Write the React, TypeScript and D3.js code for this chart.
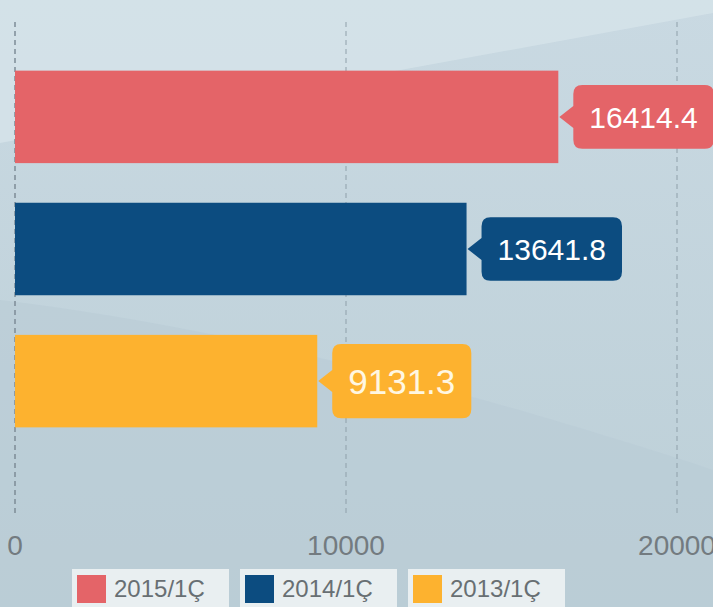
import { useEffect, useRef } from 'react';
import * as d3 from 'd3';

const seriesNames = ['2015/1Ç', '2014/1Ç', '2013/1Ç'];
const seriesValues = [16414.4, 13641.8, 9131.3];
const seriesColors = ['#e46468', '#0c4c80', '#fdb22f'];
const labelTextColors = ['#ffffff', '#ffffff', '#fff7e2'];
const labelFontSizes = [30, 30, 35];
const xTicks = [0, 10000, 20000];

const WIDTH = 713;
const HEIGHT = 607;

function App() {
  const svgRef = useRef<SVGSVGElement>(null);

  useEffect(() => {
    document.body.style.margin = '0';
    const svg = d3.select(svgRef.current);
    svg.selectAll('*').remove();
    svg.attr('width', WIDTH).attr('height', HEIGHT);

    const font = '"Liberation Sans", Arial, sans-serif';

    // background
    const defs = svg.append('defs');
    const grad = defs
      .append('linearGradient')
      .attr('id', 'bg')
      .attr('x1', 0)
      .attr('y1', 0)
      .attr('x2', 0)
      .attr('y2', 1);
    grad.append('stop').attr('offset', '0%').attr('stop-color', '#c9d9e2');
    grad.append('stop').attr('offset', '100%').attr('stop-color', '#bccfd7');

    svg.append('rect').attr('width', WIDTH).attr('height', HEIGHT).attr('fill', 'url(#bg)');
    svg
      .append('path')
      .attr('d', 'M0,0 L713,0 L713,13 L0,143 Z')
      .attr('fill', '#d6e3ea')
      .attr('opacity', 0.8);
    svg
      .append('path')
      .attr('d', 'M0,300 C250,330 500,400 713,470 L713,607 L0,607 Z')
      .attr('fill', '#b9ccd5')
      .attr('opacity', 0.6);

    const x = d3.scaleLinear().domain([0, 20000]).range([15, 677]);
    const y = d3.scaleBand<string>().domain(seriesNames).range([31, 467]).padding(0.3);

    // grid
    svg
      .append('g')
      .selectAll('line')
      .data(xTicks)
      .enter()
      .append('line')
      .attr('x1', (d) => x(d))
      .attr('x2', (d) => x(d))
      .attr('y1', 22)
      .attr('y2', 515)
      .attr('stroke', (d) => (d === 0 ? '#7d8c96' : '#8fa0aa'))
      .attr('stroke-width', (d) => (d === 0 ? 1.5 : 1))
      .attr('stroke-dasharray', '5,4');

    // tick labels
    svg
      .append('g')
      .selectAll('text')
      .data(xTicks)
      .enter()
      .append('text')
      .attr('x', (d) => x(d))
      .attr('y', 555)
      .attr('text-anchor', 'middle')
      .attr('font-family', font)
      .attr('font-size', 28)
      .attr('fill', '#737b80')
      .text((d) => String(d));

    // bars
    svg
      .append('g')
      .selectAll('rect')
      .data(seriesNames)
      .enter()
      .append('rect')
      .attr('x', x(0))
      .attr('y', (d) => y(d)!)
      .attr('width', (d, i) => x(seriesValues[i]) - x(0))
      .attr('height', y.bandwidth())
      .attr('fill', (d, i) => seriesColors[i]);

    // callout labels
    const labels = svg
      .append('g')
      .selectAll('g')
      .data(seriesNames)
      .enter()
      .append('g');

    labels.each(function (d, i) {
      const g = d3.select(this);
      const cy = y(d)! + y.bandwidth() / 2;
      const tip = x(seriesValues[i]) + 1;
      const left = tip + 14;
      const fs = labelFontSizes[i];
      const text = g
        .append('text')
        .attr('y', cy)
        .attr('dy', '0.36em')
        .attr('font-family', font)
        .attr('font-size', fs)
        .attr('fill', labelTextColors[i])
        .text(d3.format('.1f')(seriesValues[i]));
      const tw = (text.node() as SVGTextElement).getComputedTextLength();
      const pad = 16;
      const w = tw + pad * 2;
      const h = fs * 2.12;
      const top = cy - h / 2;
      const r = 9;
      const right = left + w;
      const bottom = top + h;
      const path = [
        `M${left + r},${top}`,
        `L${right - r},${top}`,
        `Q${right},${top} ${right},${top + r}`,
        `L${right},${bottom - r}`,
        `Q${right},${bottom} ${right - r},${bottom}`,
        `L${left + r},${bottom}`,
        `Q${left},${bottom} ${left},${bottom - r}`,
        `L${left},${cy + 11}`,
        `L${tip},${cy}`,
        `L${left},${cy - 11}`,
        `L${left},${top + r}`,
        `Q${left},${top} ${left + r},${top}`,
        'Z',
      ].join(' ');
      g.insert('path', 'text').attr('d', path).attr('fill', seriesColors[i]);
      text.attr('x', left + pad);
    });

    // legend
    const legendX = [72, 240, 408];
    const legend = svg
      .append('g')
      .selectAll('g')
      .data(seriesNames)
      .enter()
      .append('g')
      .attr('transform', (d, i) => `translate(${legendX[i]}, 569)`);

    legend
      .append('rect')
      .attr('width', 157)
      .attr('height', 40)
      .attr('fill', '#e9eff1');
    legend
      .append('rect')
      .attr('x', 5)
      .attr('y', 6)
      .attr('width', 29)
      .attr('height', 28)
      .attr('fill', (d, i) => seriesColors[i]);
    legend
      .append('text')
      .attr('x', 42)
      .attr('y', 28)
      .attr('font-family', font)
      .attr('font-size', 24)
      .attr('fill', '#686f73')
      .text((d) => d);
  }, []);

  return <svg ref={svgRef} style={{ display: 'block' }}></svg>;
}

export default App;
